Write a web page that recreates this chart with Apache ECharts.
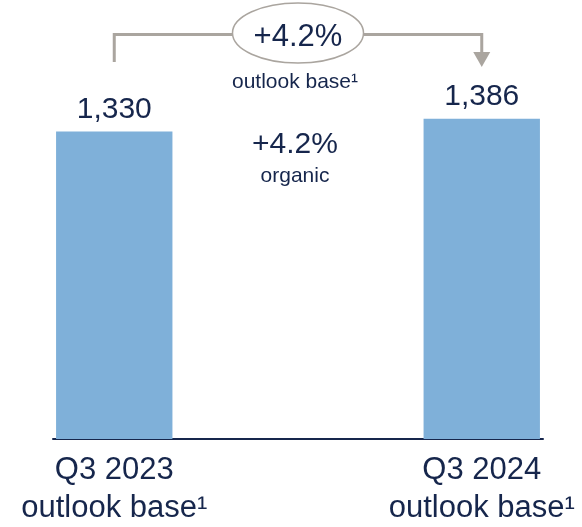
<!DOCTYPE html>
<html><head><meta charset="utf-8">
<script src="https://cdn.jsdelivr.net/npm/echarts@6/dist/echarts.min.js"></script>
<style>html,body{margin:0;padding:0;background:#fff}#c{width:582px;height:527px}</style>
</head><body><div id="c"></div>
<script>
// ---- data ----
const categories = ['Q3 2023\noutlook base¹', '', '', 'Q3 2024\noutlook base¹'];
const values = [1330, null, null, 1386];
const growthLabel = '+4.2%';
const growthBasis = 'outlook base¹';
const organicLabel = '+4.2%';
const organicBasis = 'organic';

// ---- style ----
const NAVY = '#16264c';
const BAR = '#7fb0d9';
const GRAY = '#aaa59f';
const FONT = '"Liberation Sans", Arial, sans-serif';

const chart = echarts.init(document.getElementById('c'), null, {renderer: 'canvas'});
chart.setOption({
  animation: false,
  backgroundColor: '#fff',
  grid: {left: 53, right: 39, top: 23, bottom: 86, containLabel: false},
  xAxis: {
    type: 'category',
    data: categories,
    axisLine: {lineStyle: {color: NAVY, width: 2}},
    axisTick: {show: false},
    axisLabel: {interval: 0, fontSize: 31, lineHeight: 38, color: NAVY, fontFamily: FONT, margin: 12}
  },
  yAxis: {type: 'value', min: 0, max: 1800, show: false, splitLine: {show: false}},
  series: [{
    type: 'bar',
    data: values,
    barWidth: '95%',
    itemStyle: {color: BAR},
    label: {
      show: true, position: 'top', distance: 7,
      fontSize: 30, color: NAVY, fontFamily: FONT,
      formatter: p => p.value == null ? '' : Number(p.value).toLocaleString('en-US')
    }
  }]
});

const x1 = chart.convertToPixel({xAxisIndex: 0}, 0);
const x2 = chart.convertToPixel({xAxisIndex: 0}, 3);
const cx = (x1 + x2) / 2;
const rx = 65.5, ry = 30, cy = 33, ly = 34.5;

chart.setOption({
  graphic: [
    {type: 'polyline', shape: {points: [[x1, 62], [x1, ly], [cx - rx, ly]]},
     style: {stroke: GRAY, lineWidth: 3, fill: null}},
    {type: 'polyline', shape: {points: [[cx + rx, ly], [x2, ly], [x2, 53]]},
     style: {stroke: GRAY, lineWidth: 3, fill: null}},
    {type: 'polygon', shape: {points: [[x2 - 8.5, 52], [x2 + 8.5, 52], [x2, 67]]},
     style: {fill: GRAY}},
    {type: 'ellipse', shape: {cx: cx, cy: cy, rx: rx, ry: ry},
     style: {fill: '#fff', stroke: GRAY, lineWidth: 1.5}},
    {type: 'text', x: cx, y: 37,
     style: {text: growthLabel, fill: NAVY, font: '31px ' + FONT, align: 'center', verticalAlign: 'middle'}},
    {type: 'text', x: cx - 3, y: 82,
     style: {text: growthBasis, fill: NAVY, font: '21px ' + FONT, align: 'center', verticalAlign: 'middle'}},
    {type: 'text', x: cx - 3, y: 145,
     style: {text: organicLabel, fill: NAVY, font: '30px ' + FONT, align: 'center', verticalAlign: 'middle'}},
    {type: 'text', x: cx - 3, y: 176,
     style: {text: organicBasis, fill: NAVY, font: '21px ' + FONT, align: 'center', verticalAlign: 'middle'}}
  ]
});
</script>
</body></html>
